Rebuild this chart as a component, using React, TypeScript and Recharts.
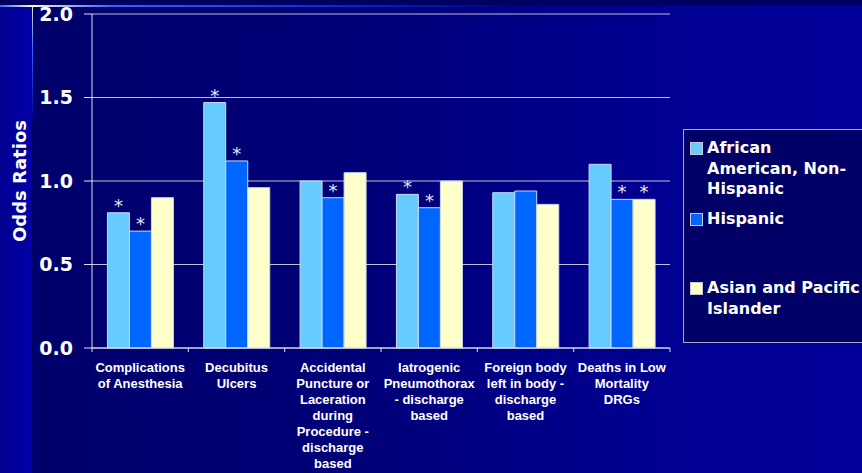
import { FC } from "react";
import { BarChart, Bar, XAxis, YAxis, CartesianGrid, Legend, LabelList } from "recharts";

const categoryLines: string[][] = [
  ["Complications", "of Anesthesia"],
  ["Decubitus", "Ulcers"],
  ["Accidental", "Puncture or", "Laceration", "during", "Procedure -", "discharge", "based"],
  ["Iatrogenic", "Pneumothorax", "- discharge", "based"],
  ["Foreign body", "left in body -", "discharge", "based"],
  ["Deaths in Low", "Mortality", "DRGs"],
];

const seriesNames = ["African American, Non-Hispanic", "Hispanic", "Asian and Pacific Islander"];
const legendLines: string[][] = [["African", "American, Non-", "Hispanic"], ["Hispanic"], ["Asian and Pacific", "Islander"]];
const seriesColors = ["#66ccff", "#0066ff", "#ffffcc"];

const african = [0.81, 1.47, 1.0, 0.92, 0.93, 1.1];
const hispanic = [0.7, 1.12, 0.9, 0.84, 0.94, 0.89];
const asian = [0.9, 0.96, 1.05, 1.0, 0.86, 0.89];

// significance markers (*)
const africanSig = [true, true, false, true, false, false];
const hispanicSig = [true, true, true, true, false, true];
const asianSig = [false, false, false, false, false, true];

const yTicks = [0, 0.5, 1.0, 1.5, 2.0];

const data = categoryLines.map((lines, i) => ({
  name: lines.join(" "),
  african: african[i],
  hispanic: hispanic[i],
  asian: asian[i],
  africanSig: africanSig[i],
  hispanicSig: hispanicSig[i],
  asianSig: asianSig[i],
}));

const BAND = 578 / 6;
const BOLD = "'DejaVu Sans', sans-serif";

const CategoryTick = (props: any) => {
  const { x, y, payload, index } = props;
  const lines = categoryLines[index] ?? [payload.value];
  return (
    <g>
      <line x1={x - BAND / 2} x2={x - BAND / 2} y1={y} y2={y + 4} stroke="#e0e0f0" />
      {index === categoryLines.length - 1 && (
        <line x1={x + BAND / 2} x2={x + BAND / 2} y1={y} y2={y + 4} stroke="#e0e0f0" />
      )}
      <text x={x} y={y + 24} textAnchor="middle" fill="#ffffff" fontSize={13} fontWeight="bold" fontFamily="'Liberation Sans', Arial, sans-serif">
        {lines.map((l, i) => (
          <tspan key={i} x={x} dy={i === 0 ? 0 : 16}>{l}</tspan>
        ))}
      </text>
    </g>
  );
};

const star = (flags: boolean[]) => (props: any) => {
  const { x, y, width, index } = props;
  if (!flags[index]) return null;
  return (
    <text x={x + width / 2} y={y - 1} textAnchor="middle" fill="#e8e8f8" fontSize={18} fontFamily={BOLD}>*</text>
  );
};

const LegendBox = () => {
  const tops = [8, 79, 148];
  return (
    <div style={{ position: "relative", width: 200, height: 214, border: "1px solid #a8a8c8", background: "#000066", boxSizing: "border-box" }}>
      {seriesNames.map((n, i) => (
        <div key={n} style={{ position: "absolute", left: 6, top: tops[i], display: "flex" }}>
          <div style={{ width: 11, height: 11, marginTop: 4, background: seriesColors[i], border: "1px solid #c8c8d8" }} />
          <div style={{ marginLeft: 4, color: "#fff", fontFamily: BOLD, fontWeight: "bold", fontSize: 16, lineHeight: "20.5px", whiteSpace: "nowrap" }}>
            {legendLines[i].map((l) => (
              <div key={l}>{l}</div>
            ))}
          </div>
        </div>
      ))}
    </div>
  );
};

const App: FC = () => {
  return (
    <div style={{ position: "absolute", left: 0, top: 0, width: 862, height: 473, overflow: "hidden", background: "linear-gradient(to right, #00006a 0px, #000078 350px, #000094 700px, #000099 862px)" }}>
      <div style={{ position: "absolute", left: 0, top: 0, width: 32, height: 473, background: "linear-gradient(to right, #000090, #0000a8)" }} />
      <div style={{ position: "absolute", left: 32, top: 0, width: 1, height: 120, background: "linear-gradient(to bottom, #ffffcc, #3366ff 40%, #000099)" }} />
      <div style={{ position: "absolute", left: 0, top: 0, width: 862, height: 6, background: "#000060" }} />
      <div style={{ position: "absolute", left: 0, top: 5, width: 862, height: 2, background: "linear-gradient(to right, #3366ff 0px, #ffffcc 32px, #3366ff 110px, #0033cc 330px, #000099 500px)" }} />
      <BarChart width={862} height={473} data={data} margin={{ top: 14, right: 192, left: 0, bottom: 0 }} barCategoryGap="16%" barGap={0}>
        <CartesianGrid vertical={false} stroke="#c0c0d8" />
        <XAxis dataKey="name" height={125} interval={0} tick={<CategoryTick />} tickLine={false} tickSize={0} tickMargin={0} axisLine={{ stroke: "#e0e0f0" }} />
        <YAxis
          width={92}
          domain={[0, 2]}
          ticks={yTicks}
          tickFormatter={(v: number) => v.toFixed(1)}
          tickSize={8}
          tickMargin={11}
          tick={{ fill: "#ffffff", fontSize: 19, fontWeight: "bold", fontFamily: BOLD }}
          tickLine={{ stroke: "#e0e0f0" }}
          axisLine={{ stroke: "#e0e0f0" }}
          label={{ value: "Odds Ratios", angle: -90, position: "insideLeft", dx: 15, fill: "#ffffff", fontSize: 18, fontWeight: "bold", fontFamily: BOLD, style: { textAnchor: "middle" } }}
        />
        <YAxis yAxisId="frame" orientation="right" width={0} domain={[0, 2]} tick={false} tickLine={false} axisLine={{ stroke: "#e0e0f0" }} />
        <Legend layout="vertical" align="center" verticalAlign="middle" content={<LegendBox />} wrapperStyle={{ left: 683, top: 129, width: 200, height: 214 }} />
        <Bar dataKey="african" name={seriesNames[0]} fill={seriesColors[0]} stroke="#c8d8f0" strokeWidth={1} isAnimationActive={false}>
          <LabelList dataKey="african" content={star(africanSig)} />
        </Bar>
        <Bar dataKey="hispanic" name={seriesNames[1]} fill={seriesColors[1]} stroke="#c8d8f0" strokeWidth={1} isAnimationActive={false}>
          <LabelList dataKey="hispanic" content={star(hispanicSig)} />
        </Bar>
        <Bar dataKey="asian" name={seriesNames[2]} fill={seriesColors[2]} stroke="#c8d8f0" strokeWidth={1} isAnimationActive={false}>
          <LabelList dataKey="asian" content={star(asianSig)} />
        </Bar>
      </BarChart>
    </div>
  );
};

export default App;
